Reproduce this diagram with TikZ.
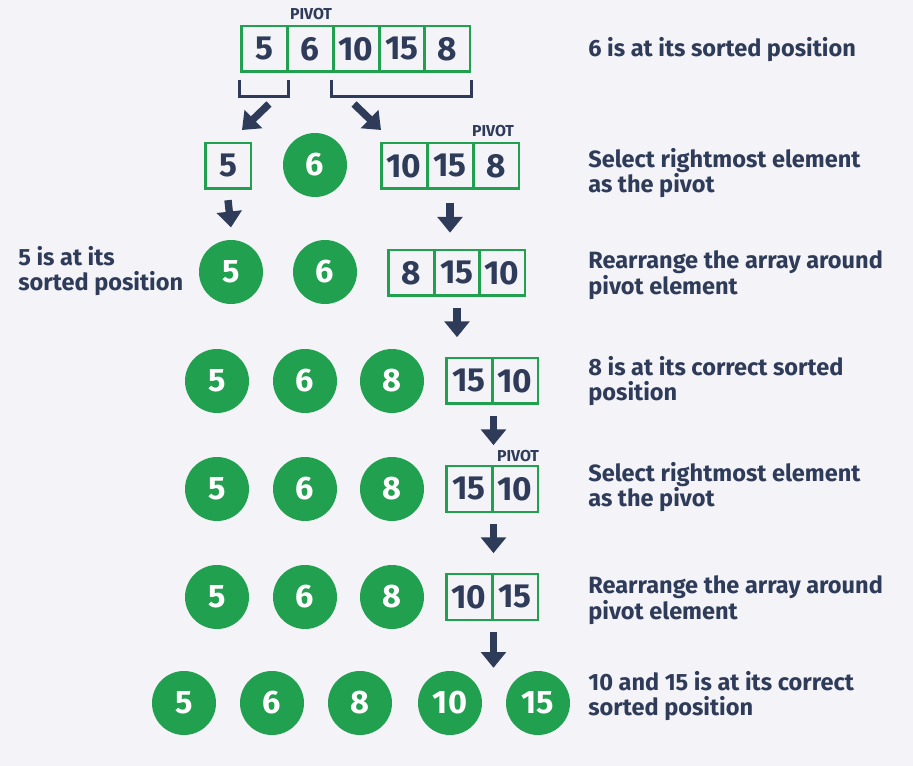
\documentclass[tikz,border=0pt]{standalone}
\usepackage{fontspec}
\setmainfont{Fira Sans}
\usetikzlibrary{arrows.meta}
\definecolor{qgreen}{HTML}{21A04F}
\definecolor{qnavy}{HTML}{2E3B59}
\definecolor{qbg}{HTML}{F4F4F8}
\tikzset{
  cell/.style={draw=qgreen, line width=1.7pt, minimum width=0.92cm, minimum height=0.92cm,
    inner sep=0pt, text=qnavy, font=\bfseries\fontsize{19}{19}\selectfont},
  ball/.style={circle, fill=qgreen, minimum size=1.28cm, inner sep=0pt, text=white,
    font=\bfseries\fontsize{18.5}{18.5}\selectfont},
  note/.style={anchor=west, align=left, inner sep=0pt, text=qnavy,
    font=\bfseries\fontsize{13.4}{14.7}\selectfont},
  pivot/.style={text=qnavy, inner sep=0pt, font=\bfseries\fontsize{9}{9}\selectfont},
  darr/.style={qnavy, line width=4.2pt, -{Triangle[length=9pt,width=14pt]}},
  brk/.style={qnavy, line width=1.7pt}
}
\begin{document}
\begin{tikzpicture}[x=0.02cm, y=-0.02cm]
  % Background
  \fill[qbg] (0,0) rectangle (913,766);
  % Row 1: full array
  \foreach \x/\v/\n in {264/5/a, 310/6/b, 356/10/c, 402/15/d, 447/8/e}
    \node[cell] (r1\n) at (\x,49) {\v};
  \node[pivot] (p1) at (311,14) {PIVOT};
  % Brackets under the two parts
  \draw[brk] ([yshift=-3.5pt]r1a.south west) -- ++(0,17) -| ([yshift=-3.5pt]r1a.south east);
  \draw[brk] ([yshift=-3.5pt]r1c.south west) -- ++(0,17) -| ([yshift=-3.5pt]r1e.south east);
  \coordinate (ls) at (269,104);
  \coordinate (le) at (242,130);
  \coordinate (rs) at (354,104);
  \coordinate (re) at (381,130);
  \draw[darr] (ls) -- (le);
  \draw[darr] (rs) -- (re);
  % Row 2
  \node[cell] (r2a) at (228,166) {5};
  \node[ball] (r2b) at (315,165) {6};
  \foreach \x/\v/\n in {404/10/c, 450/15/d, 496/8/e}
    \node[cell] (r2\n) at (\x,166) {\v};
  \node[pivot] (p2) at (493,131) {PIVOT};
  % Row 3
  \node[ball] (r3a) at (231,272) {5};
  \node[ball] (r3b) at (325,272) {6};
  \foreach \x/\v/\n in {411/8/c, 457/15/d, 502/10/e}
    \node[cell] (r3\n) at (\x,273) {\v};
  \draw[darr] ([yshift=-5.5pt]r2a.south) -- ([yshift=7pt]r3a.north);
  \draw[darr] ([yshift=-7.4pt]r2d.south) -- ([yshift=9pt]r2d.south |- r3d.north);
  \node[note] (l3) at (18,271) {5 is at its\\sorted position};
  % Rows 4 to 6
  \foreach \y/\r in {381/4, 489/5, 597/6} {
    \foreach \x/\v/\n in {217/5/a, 305/6/b, 392/8/c}
      \node[ball] (r\r\n) at (\x,\y) {\v};
  }
  \node[cell] (r4d) at (469,381) {15};
  \node[cell] (r4e) at (515,381) {10};
  \node[cell] (r5d) at (469,489) {15};
  \node[cell] (r5e) at (515,489) {10};
  \node[pivot] (p5) at (518,456) {PIVOT};
  \node[cell] (r6d) at (469,597) {10};
  \node[cell] (r6e) at (515,597) {15};
  \draw[darr] ([yshift=-6pt]r3d.south) -- ([yshift=11pt]r3d.south |- r4d.north);
  \draw[darr] ([yshift=-6pt]r4d.south east) -- ([yshift=11pt]r5d.north east);
  \draw[darr] ([yshift=-6pt]r5d.south east) -- ([yshift=11pt]r6d.north east);
  % Row 7: all sorted
  \foreach \x/\v/\n in {184/5/a, 272/6/b, 360/8/c, 450/10/d, 538/15/e}
    \node[ball] (r7\n) at (\x,703) {\v};
  \draw[darr] ([yshift=-6pt]r6d.south east) -- ([yshift=7pt]r7e.north west -| r6d.east);
  % Notes on the right
  \node[note] (n1) at (588,50) {6 is at its sorted position};
  \node[note] (n2) at (588,173) {Select rightmost element\\as the pivot};
  \node[note] (n3) at (588,275) {Rearrange the array around\\pivot element};
  \node[note] (n4) at (588,381) {8 is at its correct sorted\\position};
  \node[note] (n5) at (588,487) {Select rightmost element\\as the pivot};
  \node[note] (n6) at (588,600) {Rearrange the array around\\pivot element};
  \node[note] (n7) at (588,696) {10 and 15 is at its correct\\sorted position};
\end{tikzpicture}
\end{document}
